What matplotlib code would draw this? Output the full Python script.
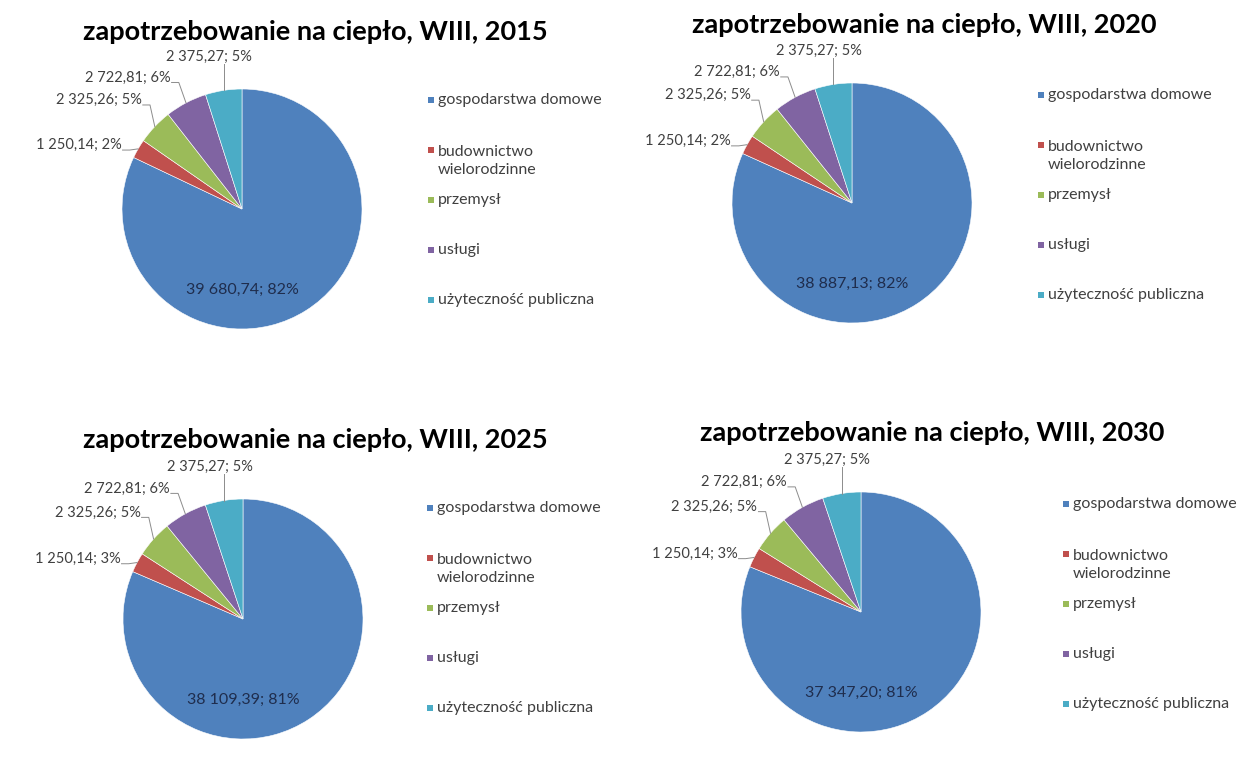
import numpy as np
import matplotlib.pyplot as plt
from matplotlib.patches import Rectangle

plt.rcParams['font.family'] = ['Lato', 'DejaVu Sans']

# heat demand by sector, WIII region
categories = ['gospodarstwa domowe', 'budownictwo\nwielorodzinne', 'przemysł',
              'usługi', 'użyteczność publiczna']
colors = ['#4F81BD', '#C0504D', '#9BBB59', '#8064A2', '#4BACC6']

years = [2015, 2020, 2025, 2030]
values_2015 = [39680.74, 1250.14, 2325.26, 2722.81, 2375.27]
values_2020 = [38887.13, 1250.14, 2325.26, 2722.81, 2375.27]
values_2025 = [38109.39, 1250.14, 2325.26, 2722.81, 2375.27]
values_2030 = [37347.20, 1250.14, 2325.26, 2722.81, 2375.27]
pct_2015 = [82, 2, 5, 6, 5]
pct_2020 = [82, 2, 5, 6, 5]
pct_2025 = [81, 3, 5, 6, 5]
pct_2030 = [81, 3, 5, 6, 5]

values = [values_2015, values_2020, values_2025, values_2030]
pcts = [pct_2015, pct_2020, pct_2025, pct_2030]

W, H = 1238, 764
R = 120  # pie radius in px

# pixel layout of the four panels: pie centre, title centre, legend start
layout = [
    dict(center=(242, 209), title=(315, 32), legend=(431, 100)),
    dict(center=(852, 203), title=(924, 25), legend=(1041, 95)),
    dict(center=(243, 619), title=(315, 440), legend=(430, 508)),
    dict(center=(861, 612), title=(932, 433), legend=(1066, 504)),
]
# where the outside labels sit relative to the slice edge (pie radius units)
label_shift = [(-0.14, 0.03), (-0.11, 0.22), (-0.13, 0.21), (-0.12, 0.22)]

label_color = '#404040'
line_color = '#8c8c8c'


def fmt(v, p):
    s = f'{v:,.2f}'.replace(',', ' ').replace('.', ',')
    return f'{s}; {p}%'


fig = plt.figure(figsize=(W / 100, H / 100), dpi=100)
fig.patch.set_facecolor('white')

for year, vals, pc, lay in zip(years, values, pcts, layout):
    cx, cy = lay['center']
    ax = fig.add_axes([(cx - R) / W, 1 - (cy + R) / H, 2 * R / W, 2 * R / H])
    wedges, _ = ax.pie(vals, colors=colors, startangle=90, counterclock=False,
                       radius=1, wedgeprops=dict(edgecolor='white', linewidth=0.4))
    ax.set_xlim(-1, 1)
    ax.set_ylim(-1, 1)
    ax.axis('off')

    # big slice: label inside
    ax.text(0, -0.67, fmt(vals[0], pc[0]), ha='center', va='center',
            fontsize=11.5, color='#1F2D4D')

    # small slices: labels outside with leader lines
    for w, v, p, (sx, sy) in zip(wedges[1:], vals[1:], pc[1:], label_shift):
        a = np.radians((w.theta1 + w.theta2) / 2)
        ex, ey = np.cos(a), np.sin(a)
        if abs(ex) < 0.25:
            ty = ey + sy
            ax.text(ex + sx, ty, fmt(v, p), ha='center', va='bottom',
                    fontsize=10.5, color=label_color, clip_on=False)
            ax.plot([ex, ex], [ey, ty], color=line_color, lw=0.7, clip_on=False)
        else:
            tx, ty = ex + sx, ey + sy
            ax.text(tx, ty, fmt(v, p), ha='right', va='center',
                    fontsize=10.5, color=label_color, clip_on=False)
            ax.plot([tx + 0.01, tx + 0.07, ex], [ty - 0.04, ty - 0.04, ey],
                    color=line_color, lw=0.7, clip_on=False)

    fig.text(lay['title'][0] / W, 1 - lay['title'][1] / H,
             f'zapotrzebowanie na ciepło, WIII, {year}',
             ha='center', va='center', fontsize=19.5, fontweight='bold',
             color='black')

    # legend
    lx, ly = lay['legend']
    step = 50
    for i, (cat, col) in enumerate(zip(categories, colors)):
        y0 = ly + i * step
        n = cat.count('\n') + 1
        fig.add_artist(Rectangle(((lx - 3) / W, 1 - (y0 + 3) / H), 6 / W, 6 / H,
                                 transform=fig.transFigure, color=col, lw=0))
        fig.text((lx + 7) / W, 1 - (y0 + (n - 1) * 11) / H, cat,
                 ha='left', va='center', fontsize=11.5, color=label_color,
                 linespacing=1.45)

fig.savefig('out.png', dpi=100)
